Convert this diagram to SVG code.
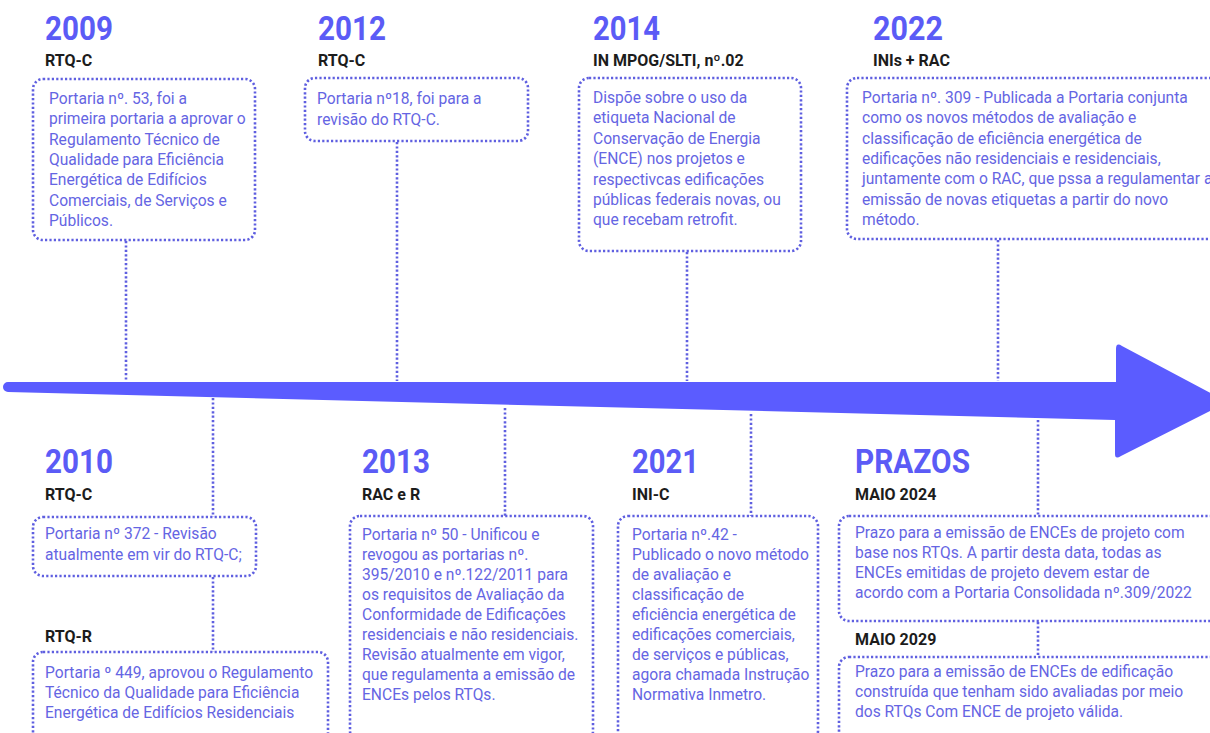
<svg xmlns="http://www.w3.org/2000/svg" width="1210" height="733" viewBox="0 0 1210 733">
<style>
.bg{fill:#ffffff}
.box{fill:none;stroke:#5f5fe0;stroke-width:2.6;stroke-dasharray:2.2 2.2}
.con{fill:none;stroke:#5f5fe0;stroke-width:2.6;stroke-dasharray:2.2 2.2}
.yr{font-family:Roboto,"Liberation Sans",sans-serif;font-weight:700;font-size:33px;fill:#5b5bf6}
.sub{font-family:Roboto,"Liberation Sans",sans-serif;font-weight:700;font-size:16px;fill:#1c1c1c}
.body{font-family:Roboto,"Liberation Sans",sans-serif;font-size:15.6px;fill:#6565e3}
.arrow{fill:#5b5cff}
</style>
<rect class="bg" x="0" y="0" width="1210" height="733"/>

<g id="timeline-arrow">
<path class="arrow" d="M 8,382 L 1116,382 L 1116,349 Q 1116,342 1122,346 L 1222,399 Q 1226,402 1222,405 L 1121,456 Q 1115,460 1115,454 L 1115,420 L 8,392 A 5 5 0 0 1 8,382 Z"/>
</g>

<g id="connectors">
<line class="con" x1="126" y1="241" x2="126" y2="381"/>
<line class="con" x1="397" y1="142" x2="397" y2="381"/>
<line class="con" x1="687" y1="252" x2="687" y2="381"/>
<line class="con" x1="998" y1="240" x2="998" y2="381"/>
<line class="con" x1="213" y1="398" x2="213" y2="517"/>
<line class="con" x1="213" y1="577" x2="213" y2="652"/>
<line class="con" x1="505" y1="408" x2="505" y2="516"/>
<line class="con" x1="751" y1="414" x2="751" y2="516"/>
<line class="con" x1="1038" y1="420" x2="1038" y2="516"/>
<line class="con" x1="1038" y1="622" x2="1038" y2="657"/>
</g>

<g id="n2009">
<text class="yr" x="45" y="40" textLength="68" lengthAdjust="spacingAndGlyphs">2009</text>
<text class="sub" x="45" y="66">RTQ-C</text>
<rect class="box" x="33" y="79" width="222" height="161" rx="10"/>
<text class="body" x="49" y="104">Portaria nº. 53, foi a</text>
<text class="body" x="49" y="124.3">primeira portaria a aprovar o</text>
<text class="body" x="49" y="144.6">Regulamento Técnico de</text>
<text class="body" x="49" y="164.9">Qualidade para Eficiência</text>
<text class="body" x="49" y="185.2">Energética de Edifícios</text>
<text class="body" x="49" y="205.5">Comerciais, de Serviços e</text>
<text class="body" x="49" y="225.8">Públicos.</text>
</g>

<g id="n2012">
<text class="yr" x="318" y="40" textLength="68" lengthAdjust="spacingAndGlyphs">2012</text>
<text class="sub" x="318" y="66">RTQ-C</text>
<rect class="box" x="305" y="78" width="223" height="63" rx="10"/>
<text class="body" x="317" y="104">Portaria nº18, foi para a</text>
<text class="body" x="317" y="125">revisão do RTQ-C.</text>
</g>

<g id="n2014">
<text class="yr" x="593" y="40" textLength="67" lengthAdjust="spacingAndGlyphs">2014</text>
<text class="sub" x="593" y="66">IN MPOG/SLTI, nº.02</text>
<rect class="box" x="579" y="78" width="222" height="173" rx="10"/>
<text class="body" x="593" y="103">Dispõe sobre o uso da</text>
<text class="body" x="593" y="123.4">etiqueta Nacional de</text>
<text class="body" x="593" y="143.8">Conservação de Energia</text>
<text class="body" x="593" y="164.2">(ENCE) nos projetos e</text>
<text class="body" x="593" y="184.6">respectivcas edificações</text>
<text class="body" x="593" y="205">públicas federais novas, ou</text>
<text class="body" x="593" y="225.4">que recebam retrofit.</text>
</g>

<g id="n2022">
<text class="yr" x="873" y="40" textLength="70" lengthAdjust="spacingAndGlyphs">2022</text>
<text class="sub" x="873" y="66">INIs + RAC</text>
<rect class="box" x="847" y="78" width="380" height="161" rx="10"/>
<text class="body" x="862" y="103">Portaria nº. 309 - Publicada a Portaria conjunta</text>
<text class="body" x="862" y="123.3">como os novos métodos de avaliação e</text>
<text class="body" x="862" y="143.6">classificação de eficiência energética de</text>
<text class="body" x="862" y="163.9">edificações não residenciais e residenciais,</text>
<text class="body" x="862" y="184.2">juntamente com o RAC, que pssa a regulamentar a</text>
<text class="body" x="862" y="204.5">emissão de novas etiquetas a partir do novo</text>
<text class="body" x="862" y="224.8">método.</text>
</g>

<g id="n2010">
<text class="yr" x="45" y="473" textLength="68" lengthAdjust="spacingAndGlyphs">2010</text>
<text class="sub" x="45" y="500">RTQ-C</text>
<rect class="box" x="33" y="517" width="223" height="59" rx="10"/>
<text class="body" x="45" y="539">Portaria nº 372 - Revisão</text>
<text class="body" x="45" y="560">atualmente em vir do RTQ-C;</text>
</g>

<g id="n2010-rtqr">
<text class="sub" x="45" y="642">RTQ-R</text>
<rect class="box" x="33" y="652" width="295" height="100" rx="10"/>
<text class="body" x="45" y="678">Portaria º 449, aprovou o Regulamento</text>
<text class="body" x="45" y="698">Técnico da Qualidade para Eficiência</text>
<text class="body" x="45" y="718">Energética de Edifícios Residenciais</text>
</g>

<g id="n2013">
<text class="yr" x="362" y="473" textLength="68" lengthAdjust="spacingAndGlyphs">2013</text>
<text class="sub" x="362" y="500">RAC e R</text>
<rect class="box" x="350" y="516" width="243" height="225" rx="10"/>
<text class="body" x="362" y="540">Portaria nº 50 - Unificou e</text>
<text class="body" x="362" y="560">revogou as portarias nº.</text>
<text class="body" x="362" y="580">395/2010 e nº.122/2011 para</text>
<text class="body" x="362" y="600">os requisitos de Avaliação da</text>
<text class="body" x="362" y="620">Conformidade de Edificações</text>
<text class="body" x="362" y="640">residenciais e não residenciais.</text>
<text class="body" x="362" y="660">Revisão atualmente em vigor,</text>
<text class="body" x="362" y="680">que regulamenta a emissão de</text>
<text class="body" x="362" y="700">ENCEs pelos RTQs.</text>
</g>

<g id="n2021">
<text class="yr" x="632" y="473" textLength="67" lengthAdjust="spacingAndGlyphs">2021</text>
<text class="sub" x="632" y="500">INI-C</text>
<rect class="box" x="618" y="516" width="200" height="225" rx="10"/>
<text class="body" x="632" y="540">Portaria nº.42 -</text>
<text class="body" x="632" y="560">Publicado o novo método</text>
<text class="body" x="632" y="580">de avaliação e</text>
<text class="body" x="632" y="600">classificação de</text>
<text class="body" x="632" y="620">eficiência energética de</text>
<text class="body" x="632" y="640">edificações comerciais,</text>
<text class="body" x="632" y="660">de serviços e públicas,</text>
<text class="body" x="632" y="680">agora chamada Instrução</text>
<text class="body" x="632" y="700">Normativa Inmetro.</text>
</g>

<g id="prazos-2024">
<text class="yr" x="855" y="473" textLength="115" lengthAdjust="spacingAndGlyphs">PRAZOS</text>
<text class="sub" x="855" y="500">MAIO 2024</text>
<rect class="box" x="839" y="516" width="400" height="105" rx="10"/>
<text class="body" x="855" y="538">Prazo para a emissão de ENCEs de projeto com</text>
<text class="body" x="855" y="558">base nos RTQs. A partir desta data, todas as</text>
<text class="body" x="855" y="578">ENCEs emitidas de projeto devem estar de</text>
<text class="body" x="855" y="598">acordo com a Portaria Consolidada nº.309/2022</text>
</g>

<g id="prazos-2029">
<text class="sub" x="855" y="645">MAIO 2029</text>
<rect class="box" x="839" y="657" width="400" height="100" rx="10"/>
<text class="body" x="855" y="677">Prazo para a emissão de ENCEs de edificação</text>
<text class="body" x="855" y="697">construída que tenham sido avaliadas por meio</text>
<text class="body" x="855" y="717">dos RTQs Com ENCE de projeto válida.</text>
</g>
</svg>
